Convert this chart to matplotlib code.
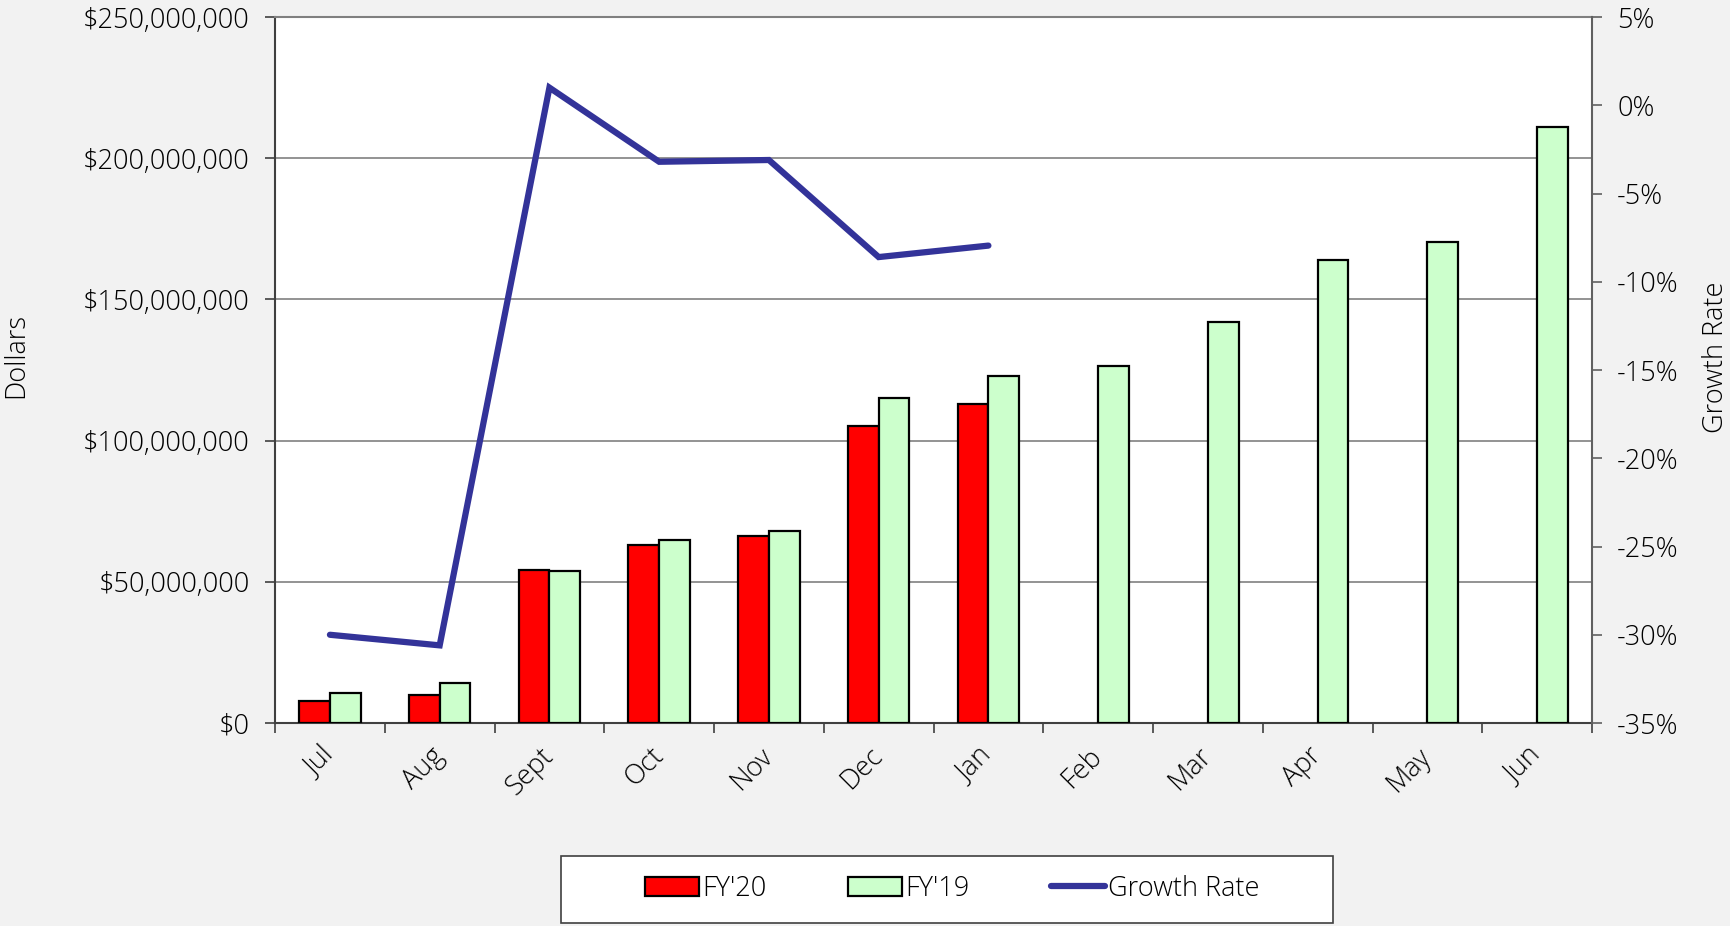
import matplotlib
matplotlib.use('Agg')
import matplotlib.pyplot as plt
from matplotlib.patches import Rectangle, Patch
from matplotlib.lines import Line2D
from matplotlib.ticker import FuncFormatter
import numpy as np

plt.rcParams['font.family'] = ['Open Sans', 'DejaVu Sans']
plt.rcParams['font.weight'] = 'light'
plt.rcParams['font.size'] = 19.5

# data
months = ['Jul', 'Aug', 'Sept', 'Oct', 'Nov', 'Dec', 'Jan', 'Feb', 'Mar', 'Apr', 'May', 'Jun']
fy20 = [7.7, 10.0, 54.3, 63.0, 66.1, 105.2, 113.1]          # millions $
fy19 = [10.6, 14.2, 53.8, 64.9, 68.1, 115.0, 122.8, 126.4, 142.1, 164.1, 170.3, 210.9]
growth = [-30.0, -30.6, 1.0, -3.2, -3.1, -8.6, -7.95]       # percent

fig = plt.figure(figsize=(17.31, 9.26), dpi=100, facecolor='#f2f2f2')
ax = fig.add_axes([0.1589, 0.2192, 0.7608, 0.7624])
ax.set_facecolor('white')

bw = 0.28
x = np.arange(len(months))
ax.bar(x[:len(fy20)] - bw / 2, np.array(fy20) * 1e6, bw, color='#ff0000',
       edgecolor='black', linewidth=1.6, zorder=3)
ax.bar(x - bw / 2 + bw, np.array(fy19) * 1e6, bw, color='#ccffcc',
       edgecolor='black', linewidth=1.6, zorder=3)

ax.set_xlim(-0.5, len(months) - 0.5)
ax.set_ylim(0, 250e6)
ax.set_yticks(np.arange(0, 250e6 + 1, 50e6))
ax.yaxis.set_major_formatter(FuncFormatter(lambda v, p: '${:,.0f}'.format(v)))
ax.grid(axis='y', color='#808080', linewidth=1.2, zorder=0)
ax.set_axisbelow(True)

ax.set_xticks(np.arange(-0.5, len(months), 1.0))
ax.set_xticklabels([])
ax.set_xticks(x, minor=True)
ax.set_xticklabels(months, minor=True, rotation=45, ha='right', va='center',
                   rotation_mode='anchor')
ax.tick_params(axis='x', which='major', length=7, width=1.2, color='#404040')
ax.tick_params(axis='x', which='minor', length=0, pad=21)
ax.tick_params(axis='y', length=7, width=1.2, color='#404040', pad=11)

for s in ['left', 'bottom']:
    ax.spines[s].set_color('#404040')
    ax.spines[s].set_linewidth(1.5)
ax.spines['top'].set_color('#808080')
ax.spines['top'].set_linewidth(1.5)
ax.spines['right'].set_visible(False)

ax2 = ax.twinx()
ax2.plot(x[:len(growth)], growth, color='#333399', linewidth=4.5,
         solid_capstyle='round', solid_joinstyle='miter', zorder=5)
ax2.set_ylim(-35, 5)
ax2.set_yticks(np.arange(-35, 6, 5))
ax2.yaxis.set_major_formatter(FuncFormatter(lambda v, p: '{:.0f}%'.format(v)))
ax2.tick_params(axis='y', length=7, width=1.2, color='#606060', pad=11)
for s in ['left', 'top', 'bottom']:
    ax2.spines[s].set_visible(False)
ax2.spines['right'].set_color('#606060')
ax2.spines['right'].set_linewidth(1.5)

fig.text(0.0092, 0.616, 'Dollars', rotation=90, ha='center', va='center')
fig.text(0.9913, 0.614, 'Growth Rate', rotation=90, ha='center', va='center')

# legend box
fig.patches.append(Rectangle((0.324, 0.003), 0.446, 0.073, transform=fig.transFigure,
                             facecolor='white', edgecolor='#404040', linewidth=1.2))
handles = [Patch(facecolor='#ff0000', edgecolor='black', linewidth=1.6),
           Patch(facecolor='#ccffcc', edgecolor='black', linewidth=1.6),
           Line2D([0], [0], color='#333399', linewidth=4.5, solid_capstyle='round')]
fig.legend(handles, ["FY'20", "FY'19", 'Growth Rate'], loc='center',
           bbox_to_anchor=(0.550, 0.040), ncol=3, frameon=False,
           handlelength=2.0, handletextpad=0.12, columnspacing=3.0)

fig.savefig('out.png', dpi=100, facecolor=fig.get_facecolor())
